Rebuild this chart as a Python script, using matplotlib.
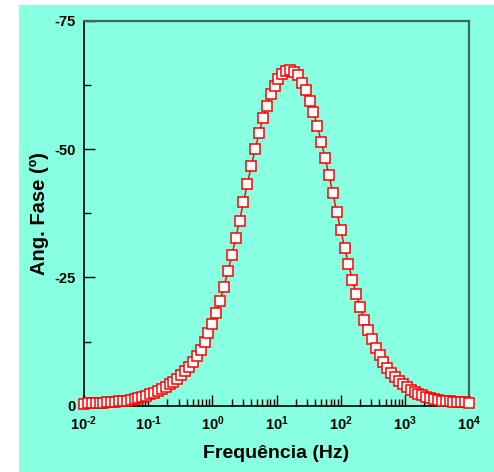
import matplotlib
matplotlib.use("Agg")
import matplotlib.pyplot as plt
from matplotlib.patches import Rectangle
from matplotlib.ticker import LogLocator, FixedLocator, NullFormatter
import numpy as np

plt.rcParams['font.family'] = ['Liberation Sans', 'DejaVu Sans']
plt.rcParams['font.weight'] = 'bold'
plt.rcParams['mathtext.fontset'] = 'custom'
plt.rcParams['mathtext.rm'] = 'Liberation Sans:weight=bold'
plt.rcParams['mathtext.bf'] = 'Liberation Sans:weight=bold'
plt.rcParams['mathtext.default'] = 'bf'

# frequency points (Hz), 100 points spread over 10^-2 .. 10^4
freq = np.logspace(-2, 4, 100)

# phase angle (degrees), one per frequency point
fase = [
    0.40, 0.45, 0.48, 0.52, 0.56, 0.60, 0.65, 0.71, 0.77, 0.84,
    0.92, 1.00, 1.10, 1.30, 1.50, 1.70, 1.95, 2.20, 2.50, 2.85,
    3.25, 3.65, 4.15, 4.65, 5.25, 5.90, 6.70, 7.60, 8.55, 9.65,
    10.9, 12.4, 14.1, 15.9, 18.1, 20.5, 23.2, 26.2, 29.3, 32.6,
    36.1, 39.7, 43.2, 46.7, 50.0, 53.1, 56.0, 58.4, 60.7, 62.4,
    63.7, 64.7, 65.3, 65.4, 65.0, 64.4, 63.0, 61.5, 59.5, 57.2,
    54.5, 51.5, 48.3, 44.9, 41.4, 37.7, 34.3, 30.8, 27.6, 24.5,
    21.8, 19.2, 16.8, 14.8, 13.0, 11.3, 9.80, 8.50, 7.40, 6.30,
    5.50, 4.80, 4.20, 3.60, 3.10, 2.70, 2.30, 2.00, 1.75, 1.50,
    1.30, 1.10, 1.00, 0.90, 0.85, 0.80, 0.75, 0.70, 0.65, 0.60,
]
fase = [-v for v in fase]

yticks = [0, -25, -50, -75]
xticks = [1e-2, 1e-1, 1e0, 1e1, 1e2, 1e3, 1e4]
xlabels = [r'$\mathbf{10^{\text{-}2}}$', r'$\mathbf{10^{\text{-}1}}$', r'$\mathbf{10^{0}}$',
           r'$\mathbf{10^{1}}$', r'$\mathbf{10^{2}}$', r'$\mathbf{10^{3}}$', r'$\mathbf{10^{4}}$']

bg = '#88FFE0'
fig = plt.figure(figsize=(4.94, 4.72), dpi=100, facecolor='white')
fig.patches.append(Rectangle((19/494, 0), 1, 1 - 5/472, transform=fig.transFigure,
                             facecolor=bg, edgecolor='none', zorder=-10))
ax = fig.add_axes([84/494, 1 - 405.7/472, (469 - 84)/494, (405.7 - 21)/472])
ax.set_facecolor(bg)

ax.plot(freq, fase, color='red', linewidth=1.0, marker='s', markersize=7.6,
        markerfacecolor='white', markeredgecolor='red', markeredgewidth=1.1,
        clip_on=False, zorder=5)

ax.set_xscale('log')
ax.set_xlim(1e-2, 1e4)
ax.set_ylim(0, -75)

ax.set_xticks(xticks)
ax.set_xticklabels(xlabels, fontsize=10.5)
ax.xaxis.set_minor_locator(LogLocator(base=10, subs=np.arange(2, 10), numticks=20))
ax.xaxis.set_minor_formatter(NullFormatter())
ax.set_yticks(yticks)
ax.set_yticklabels([str(t) for t in yticks], fontsize=10.5, fontweight='bold')
ax.yaxis.set_minor_locator(FixedLocator([-12.5, -37.5, -62.5]))

ax.tick_params(axis='both', which='major', direction='in', length=8, width=1,
               top=False, right=False, pad=6)
ax.tick_params(axis='both', which='minor', direction='in', length=5, width=1,
               top=False, right=False)

for s in ['left', 'bottom']:
    ax.spines[s].set_color('black')
    ax.spines[s].set_linewidth(1.2)
for s in ['top', 'right']:
    ax.spines[s].set_color('#3a6a5e')
    ax.spines[s].set_linewidth(1.6)

ax.set_xlabel('Frequência (Hz)', fontsize=14, fontweight='bold', labelpad=9)
ax.set_ylabel('Ang. Fase (º)', fontsize=14.5, fontweight='bold', labelpad=4)

fig.savefig('out.png', dpi=100, facecolor='white')
